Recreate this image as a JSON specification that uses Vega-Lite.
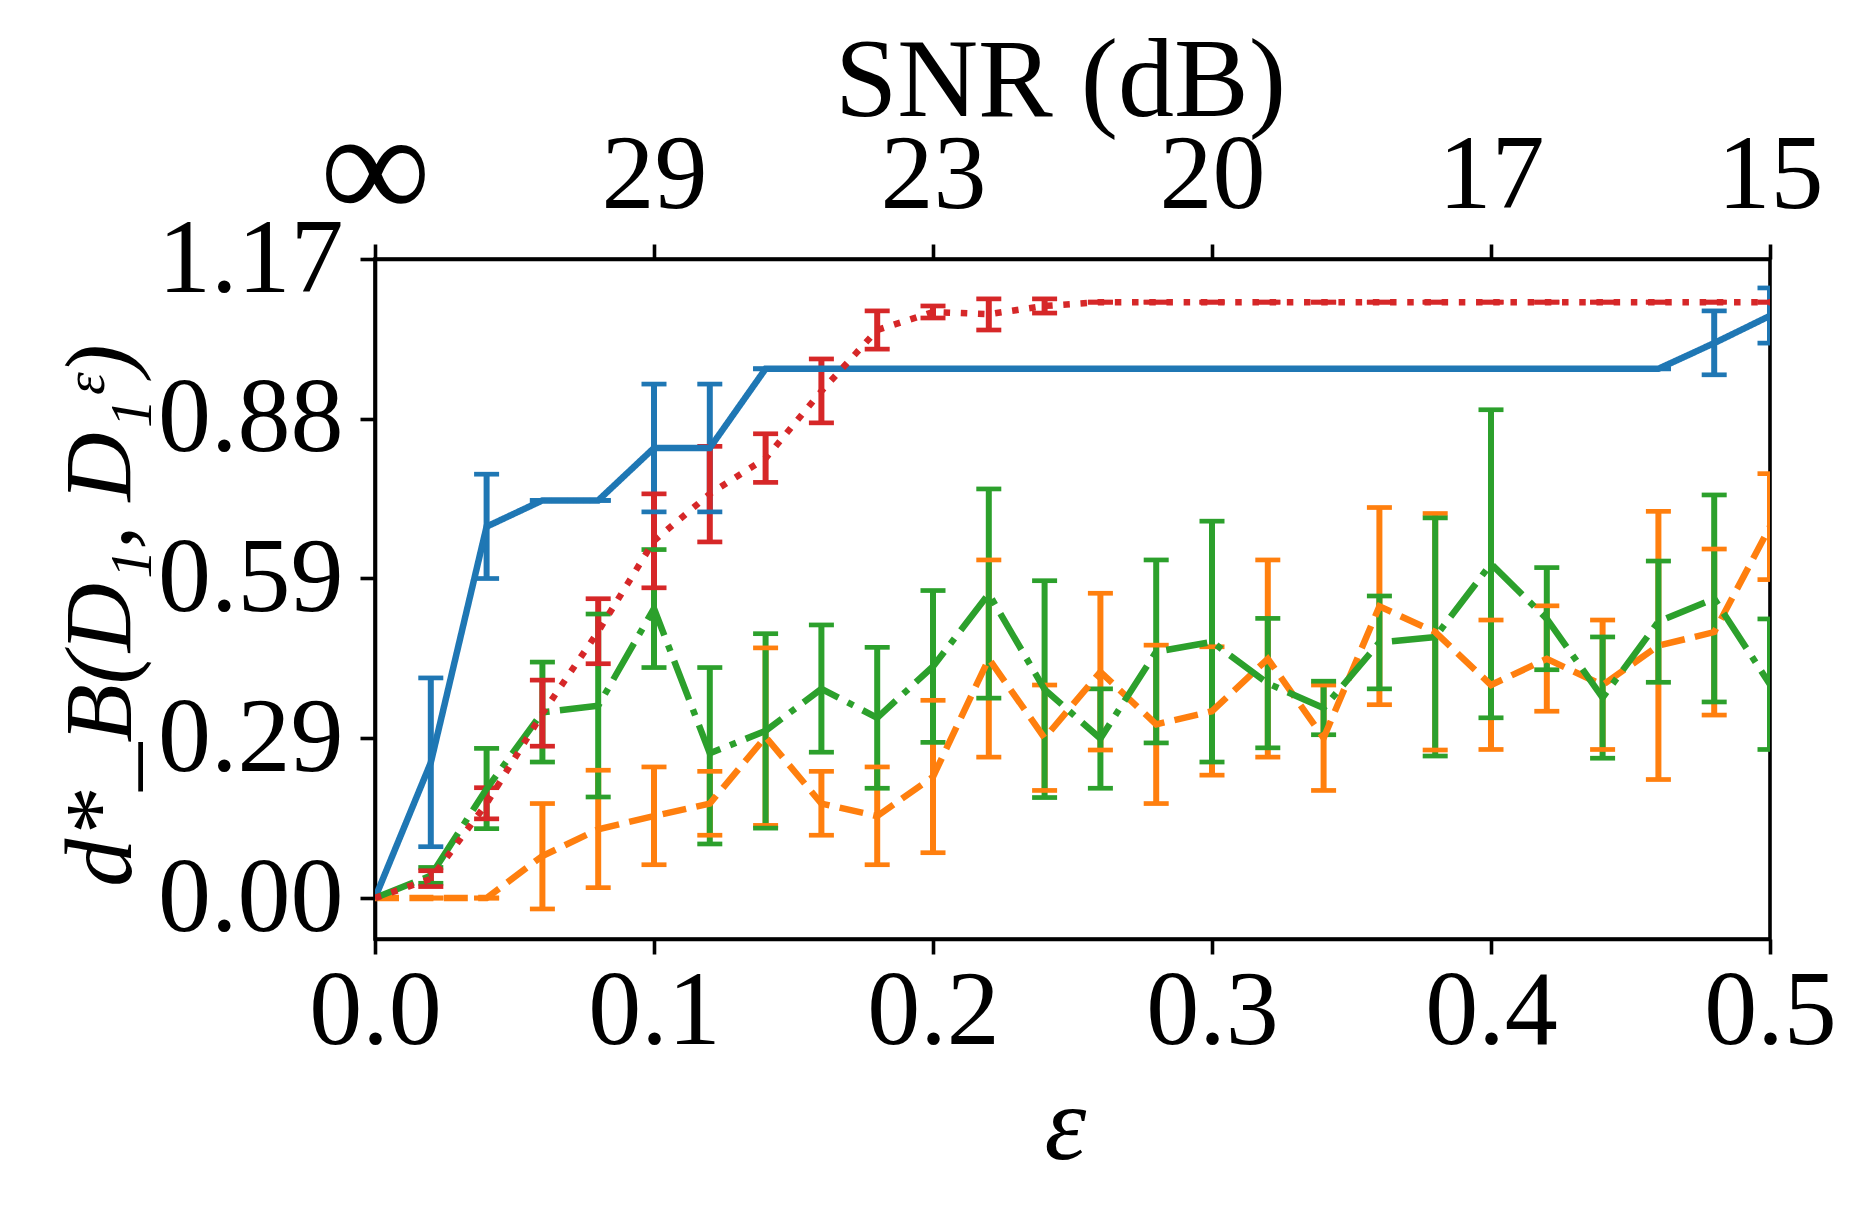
{
  "$schema": "https://vega.github.io/schema/vega-lite/v6.json",
  "autosize": {"type": "none"},
  "padding": {"left": 375, "top": 259, "right": 96, "bottom": 275},
  "width": 1395,
  "height": 680,
  "background": "white",
  "config": {
    "font": "Liberation Serif",
    "view": {"stroke": "black", "strokeWidth": 3.6},
    "axis": {"grid": false, "domain": true, "domainColor": "black", "domainWidth": 3.6, "tickColor": "black", "tickWidth": 3.6, "tickSize": 15, "labelColor": "black", "titleColor": "black", "labelFont": "Liberation Serif", "titleFont": "Liberation Serif", "labelFontSize": 106, "titleFontSize": 106, "titleFontWeight": "normal", "labelLimit": 0, "titleLimit": 0, "zindex": 1}
  },
  "data": {"values": [
    {"eps": 0.00, "s": "A", "m": 0.000, "lo": 0.000, "hi": 0.000},
    {"eps": 0.02, "s": "A", "m": 0.248, "lo": 0.094, "hi": 0.403},
    {"eps": 0.04, "s": "A", "m": 0.680, "lo": 0.585, "hi": 0.776},
    {"eps": 0.06, "s": "A", "m": 0.728, "lo": 0.728, "hi": 0.728},
    {"eps": 0.08, "s": "A", "m": 0.728, "lo": 0.728, "hi": 0.728},
    {"eps": 0.10, "s": "A", "m": 0.824, "lo": 0.707, "hi": 0.941},
    {"eps": 0.12, "s": "A", "m": 0.824, "lo": 0.707, "hi": 0.941},
    {"eps": 0.14, "s": "A", "m": 0.969, "lo": 0.969, "hi": 0.969},
    {"eps": 0.16, "s": "A", "m": 0.969, "lo": 0.969, "hi": 0.969},
    {"eps": 0.18, "s": "A", "m": 0.969, "lo": 0.969, "hi": 0.969},
    {"eps": 0.20, "s": "A", "m": 0.969, "lo": 0.969, "hi": 0.969},
    {"eps": 0.22, "s": "A", "m": 0.969, "lo": 0.969, "hi": 0.969},
    {"eps": 0.24, "s": "A", "m": 0.969, "lo": 0.969, "hi": 0.969},
    {"eps": 0.26, "s": "A", "m": 0.969, "lo": 0.969, "hi": 0.969},
    {"eps": 0.28, "s": "A", "m": 0.969, "lo": 0.969, "hi": 0.969},
    {"eps": 0.30, "s": "A", "m": 0.969, "lo": 0.969, "hi": 0.969},
    {"eps": 0.32, "s": "A", "m": 0.969, "lo": 0.969, "hi": 0.969},
    {"eps": 0.34, "s": "A", "m": 0.969, "lo": 0.969, "hi": 0.969},
    {"eps": 0.36, "s": "A", "m": 0.969, "lo": 0.969, "hi": 0.969},
    {"eps": 0.38, "s": "A", "m": 0.969, "lo": 0.969, "hi": 0.969},
    {"eps": 0.40, "s": "A", "m": 0.969, "lo": 0.969, "hi": 0.969},
    {"eps": 0.42, "s": "A", "m": 0.969, "lo": 0.969, "hi": 0.969},
    {"eps": 0.44, "s": "A", "m": 0.969, "lo": 0.969, "hi": 0.969},
    {"eps": 0.46, "s": "A", "m": 0.969, "lo": 0.969, "hi": 0.969},
    {"eps": 0.48, "s": "A", "m": 1.016, "lo": 0.958, "hi": 1.075},
    {"eps": 0.50, "s": "A", "m": 1.066, "lo": 1.016, "hi": 1.117},

    {"eps": 0.00, "s": "B", "m": 0.000, "lo": 0.000, "hi": 0.000},
    {"eps": 0.02, "s": "B", "m": 0.000, "lo": 0.000, "hi": 0.000},
    {"eps": 0.04, "s": "B", "m": 0.000, "lo": 0.000, "hi": 0.000},
    {"eps": 0.06, "s": "B", "m": 0.077, "lo": -0.020, "hi": 0.173},
    {"eps": 0.08, "s": "B", "m": 0.126, "lo": 0.019, "hi": 0.234},
    {"eps": 0.10, "s": "B", "m": 0.150, "lo": 0.061, "hi": 0.240},
    {"eps": 0.12, "s": "B", "m": 0.173, "lo": 0.115, "hi": 0.232},
    {"eps": 0.14, "s": "B", "m": 0.295, "lo": 0.133, "hi": 0.458},
    {"eps": 0.16, "s": "B", "m": 0.173, "lo": 0.115, "hi": 0.232},
    {"eps": 0.18, "s": "B", "m": 0.150, "lo": 0.061, "hi": 0.240},
    {"eps": 0.20, "s": "B", "m": 0.222, "lo": 0.083, "hi": 0.362},
    {"eps": 0.22, "s": "B", "m": 0.438, "lo": 0.258, "hi": 0.619},
    {"eps": 0.24, "s": "B", "m": 0.293, "lo": 0.197, "hi": 0.390},
    {"eps": 0.26, "s": "B", "m": 0.414, "lo": 0.271, "hi": 0.558},
    {"eps": 0.28, "s": "B", "m": 0.318, "lo": 0.173, "hi": 0.463},
    {"eps": 0.30, "s": "B", "m": 0.342, "lo": 0.225, "hi": 0.460},
    {"eps": 0.32, "s": "B", "m": 0.438, "lo": 0.258, "hi": 0.619},
    {"eps": 0.34, "s": "B", "m": 0.293, "lo": 0.197, "hi": 0.390},
    {"eps": 0.36, "s": "B", "m": 0.534, "lo": 0.354, "hi": 0.715},
    {"eps": 0.38, "s": "B", "m": 0.487, "lo": 0.271, "hi": 0.704},
    {"eps": 0.40, "s": "B", "m": 0.390, "lo": 0.272, "hi": 0.509},
    {"eps": 0.42, "s": "B", "m": 0.438, "lo": 0.342, "hi": 0.535},
    {"eps": 0.44, "s": "B", "m": 0.390, "lo": 0.272, "hi": 0.509},
    {"eps": 0.46, "s": "B", "m": 0.462, "lo": 0.217, "hi": 0.708},
    {"eps": 0.48, "s": "B", "m": 0.487, "lo": 0.335, "hi": 0.639},
    {"eps": 0.50, "s": "B", "m": 0.680, "lo": 0.583, "hi": 0.777},

    {"eps": 0.00, "s": "C", "m": 0.000, "lo": 0.000, "hi": 0.000},
    {"eps": 0.02, "s": "C", "m": 0.041, "lo": 0.027, "hi": 0.056},
    {"eps": 0.04, "s": "C", "m": 0.200, "lo": 0.127, "hi": 0.274},
    {"eps": 0.06, "s": "C", "m": 0.340, "lo": 0.249, "hi": 0.432},
    {"eps": 0.08, "s": "C", "m": 0.352, "lo": 0.185, "hi": 0.520},
    {"eps": 0.10, "s": "C", "m": 0.530, "lo": 0.422, "hi": 0.638},
    {"eps": 0.12, "s": "C", "m": 0.265, "lo": 0.099, "hi": 0.422},
    {"eps": 0.14, "s": "C", "m": 0.306, "lo": 0.128, "hi": 0.484},
    {"eps": 0.16, "s": "C", "m": 0.383, "lo": 0.267, "hi": 0.500},
    {"eps": 0.18, "s": "C", "m": 0.330, "lo": 0.201, "hi": 0.459},
    {"eps": 0.20, "s": "C", "m": 0.424, "lo": 0.285, "hi": 0.563},
    {"eps": 0.22, "s": "C", "m": 0.557, "lo": 0.366, "hi": 0.749},
    {"eps": 0.24, "s": "C", "m": 0.382, "lo": 0.184, "hi": 0.581},
    {"eps": 0.26, "s": "C", "m": 0.292, "lo": 0.201, "hi": 0.383},
    {"eps": 0.28, "s": "C", "m": 0.451, "lo": 0.284, "hi": 0.619},
    {"eps": 0.30, "s": "C", "m": 0.469, "lo": 0.249, "hi": 0.690},
    {"eps": 0.32, "s": "C", "m": 0.393, "lo": 0.275, "hi": 0.512},
    {"eps": 0.34, "s": "C", "m": 0.348, "lo": 0.299, "hi": 0.397},
    {"eps": 0.36, "s": "C", "m": 0.468, "lo": 0.383, "hi": 0.553},
    {"eps": 0.38, "s": "C", "m": 0.478, "lo": 0.260, "hi": 0.696},
    {"eps": 0.40, "s": "C", "m": 0.612, "lo": 0.330, "hi": 0.894},
    {"eps": 0.42, "s": "C", "m": 0.511, "lo": 0.418, "hi": 0.605},
    {"eps": 0.44, "s": "C", "m": 0.367, "lo": 0.256, "hi": 0.478},
    {"eps": 0.46, "s": "C", "m": 0.506, "lo": 0.395, "hi": 0.617},
    {"eps": 0.48, "s": "C", "m": 0.548, "lo": 0.359, "hi": 0.738},
    {"eps": 0.50, "s": "C", "m": 0.391, "lo": 0.272, "hi": 0.511},

    {"eps": 0.00, "s": "D", "m": 0.000, "lo": 0.000, "hi": 0.000},
    {"eps": 0.02, "s": "D", "m": 0.035, "lo": 0.021, "hi": 0.050},
    {"eps": 0.04, "s": "D", "m": 0.173, "lo": 0.145, "hi": 0.202},
    {"eps": 0.06, "s": "D", "m": 0.338, "lo": 0.278, "hi": 0.399},
    {"eps": 0.08, "s": "D", "m": 0.488, "lo": 0.429, "hi": 0.548},
    {"eps": 0.10, "s": "D", "m": 0.654, "lo": 0.568, "hi": 0.740},
    {"eps": 0.12, "s": "D", "m": 0.740, "lo": 0.652, "hi": 0.827},
    {"eps": 0.14, "s": "D", "m": 0.805, "lo": 0.761, "hi": 0.850},
    {"eps": 0.16, "s": "D", "m": 0.928, "lo": 0.870, "hi": 0.987},
    {"eps": 0.18, "s": "D", "m": 1.040, "lo": 1.005, "hi": 1.075},
    {"eps": 0.20, "s": "D", "m": 1.073, "lo": 1.062, "hi": 1.084},
    {"eps": 0.22, "s": "D", "m": 1.069, "lo": 1.040, "hi": 1.097},
    {"eps": 0.24, "s": "D", "m": 1.084, "lo": 1.071, "hi": 1.097},
    {"eps": 0.26, "s": "D", "m": 1.091, "lo": 1.091, "hi": 1.091},
    {"eps": 0.28, "s": "D", "m": 1.091, "lo": 1.091, "hi": 1.091},
    {"eps": 0.30, "s": "D", "m": 1.091, "lo": 1.091, "hi": 1.091},
    {"eps": 0.32, "s": "D", "m": 1.091, "lo": 1.091, "hi": 1.091},
    {"eps": 0.34, "s": "D", "m": 1.091, "lo": 1.091, "hi": 1.091},
    {"eps": 0.36, "s": "D", "m": 1.091, "lo": 1.091, "hi": 1.091},
    {"eps": 0.38, "s": "D", "m": 1.091, "lo": 1.091, "hi": 1.091},
    {"eps": 0.40, "s": "D", "m": 1.091, "lo": 1.091, "hi": 1.091},
    {"eps": 0.42, "s": "D", "m": 1.091, "lo": 1.091, "hi": 1.091},
    {"eps": 0.44, "s": "D", "m": 1.091, "lo": 1.091, "hi": 1.091},
    {"eps": 0.46, "s": "D", "m": 1.091, "lo": 1.091, "hi": 1.091},
    {"eps": 0.48, "s": "D", "m": 1.091, "lo": 1.091, "hi": 1.091},
    {"eps": 0.50, "s": "D", "m": 1.091, "lo": 1.091, "hi": 1.091}
  ]},
  "resolve": {"axis": {"x": "independent", "y": "independent"}},
  "layer": [
    {
      "mark": {"type": "rule", "strokeWidth": 6, "clip": true},
      "encoding": {
        "x": {"field": "eps", "type": "quantitative", "scale": {"domain": [0, 0.5], "nice": false, "zero": false},
          "axis": {"orient": "bottom", "values": [0, 0.1, 0.2, 0.3, 0.4, 0.5], "format": ".1f", "labelPadding": 5, "title": "ε", "titleFontStyle": "italic", "titleX": 690, "titleY": 219, "titleBaseline": "alphabetic", "labelFlush": false}},
        "y": {"field": "lo", "type": "quantitative", "scale": {"domain": [-0.075, 1.17], "nice": false, "zero": false},
          "axis": {"orient": "left", "values": [0, 0.2925, 0.5851, 0.8775, 1.17], "format": ".2f", "labelPadding": 17, "title": "d*_B(D₁, D₁ᵋ)", "titleFontStyle": "italic", "titleFontSize": 96, "titleAngle": -90, "titleX": -274, "titleY": 356, "titleBaseline": "middle", "labelFlush": false}},
        "y2": {"field": "hi"},
        "color": {"field": "s", "type": "nominal", "scale": {"domain": ["A", "B", "C", "D"], "range": ["#1f77b4", "#ff7f0e", "#2ca02c", "#d62728"]}, "legend": null}
      }
    },
    {
      "mark": {"type": "tick", "orient": "horizontal", "size": 25, "thickness": 4.7, "opacity": 1, "clip": true},
      "encoding": {
        "x": {"field": "eps", "type": "quantitative", "axis": null},
        "y": {"field": "lo", "type": "quantitative", "axis": null},
        "color": {"field": "s", "type": "nominal", "legend": null}
      }
    },
    {
      "mark": {"type": "tick", "orient": "horizontal", "size": 25, "thickness": 4.7, "opacity": 1, "clip": true},
      "encoding": {
        "x": {"field": "eps", "type": "quantitative", "axis": null},
        "y": {"field": "hi", "type": "quantitative", "axis": null},
        "color": {"field": "s", "type": "nominal", "legend": null}
      }
    },
    {
      "mark": {"type": "line", "strokeWidth": 6.5, "clip": true},
      "encoding": {
        "x": {"field": "eps", "type": "quantitative",
          "axis": {"orient": "top", "values": [0, 0.1, 0.2, 0.3, 0.4, 0.5], "labelExpr": "datum.value < 0.05 ? '∞' : datum.value < 0.15 ? '29' : datum.value < 0.25 ? '23' : datum.value < 0.35 ? '20' : datum.value < 0.45 ? '17' : '15'", "labelFontSize": {"condition": {"test": "datum.value < 0.05", "value": 155}, "value": 106}, "labelPadding": {"condition": {"test": "datum.value < 0.05", "value": -7}, "value": 15}, "title": "SNR (dB)", "titleFontSize": 112, "titleX": 685, "titleY": -144, "titleBaseline": "alphabetic", "labelFlush": false}},
        "y": {"field": "m", "type": "quantitative", "axis": null},
        "color": {"field": "s", "type": "nominal", "legend": null},
        "strokeDash": {"field": "s", "type": "nominal", "scale": {"domain": ["A", "B", "C", "D"], "range": [[1, 0], [24, 10.4], [41.6, 10.4, 6.5, 10.4], [6.5, 10.7]]}, "legend": null},
        "order": {"field": "eps", "type": "quantitative"}
      }
    }
  ]
}
